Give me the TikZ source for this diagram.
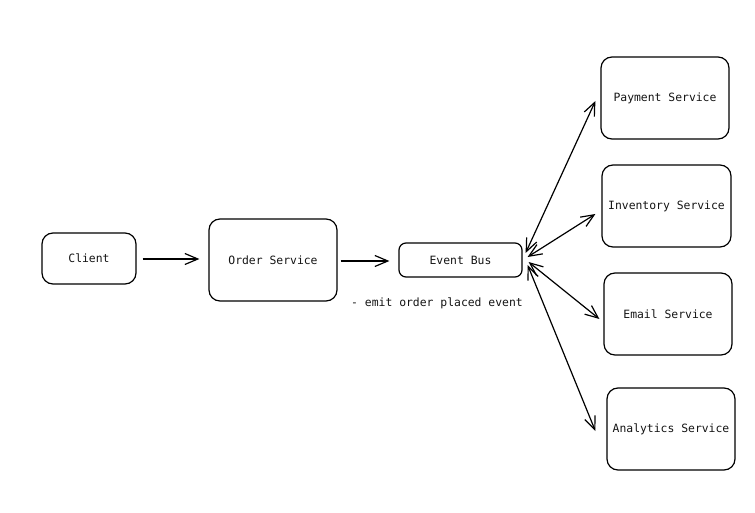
\documentclass[tikz,border=0pt]{standalone}
\usepackage{fontspec}
\setmonofont{DejaVu Sans Mono}
\usetikzlibrary{arrows.meta}

\begin{document}
\begin{tikzpicture}[x=1pt,y=-1pt,
    box/.style={draw,line width=1.2pt,rounded corners=11pt,font=\ttfamily\fontsize{11.4}{13}\selectfont,text=black!92},
    every path/.style={line width=1.2pt},
    >={Straight Barb[length=13pt,width=11pt]}]
    \useasboundingbox (0,0) rectangle (755,513);
    \node[box,minimum width=94pt,minimum height=51pt] (client) at (89,258.5) {Client};
    \node[box,minimum width=128pt,minimum height=82pt] (order) at (273,260) {Order Service};
    \node[box,minimum width=123pt,minimum height=34pt,rounded corners=7pt] (bus) at (460.5,260) {Event Bus};
    \node[box,minimum width=128pt,minimum height=82pt] (pay) at (665,98) {Payment Service};
    \node[box,minimum width=129pt,minimum height=82pt] (inv) at (666.5,206) {Inventory Service};
    \node[box,minimum width=128pt,minimum height=82pt] (mail) at (668,314) {Email Service};
    \node[box,minimum width=128pt,minimum height=82pt] (stats) at (671,429) {Analytics Service};
    \node[font=\ttfamily\fontsize{11.4}{13}\selectfont,text=black!92] (emit) at (437,303) {- emit order placed event};
    \draw[->] ([shift={(6,0.5)}]client.east) -- ([shift={(-9,-1)}]order.west);
    \draw[->] ([shift={(3,1)}]order.east) -- ([shift={(-9,1)}]bus.west);
    \draw[<->] ([shift={(3,-7)}]bus.east) -- ([shift={(-5,3)}]pay.west);
    \draw[<->] ([shift={(5,-3)}]bus.east) -- ([shift={(-6,8)}]inv.west);
    \draw[<->] ([shift={(6,2)}]bus.east) -- ([shift={(-4,5)}]mail.west);
    \draw[<->] ([shift={(5,5)}]bus.east) -- ([shift={(-11,2)}]stats.west);
\end{tikzpicture}
\end{document}
